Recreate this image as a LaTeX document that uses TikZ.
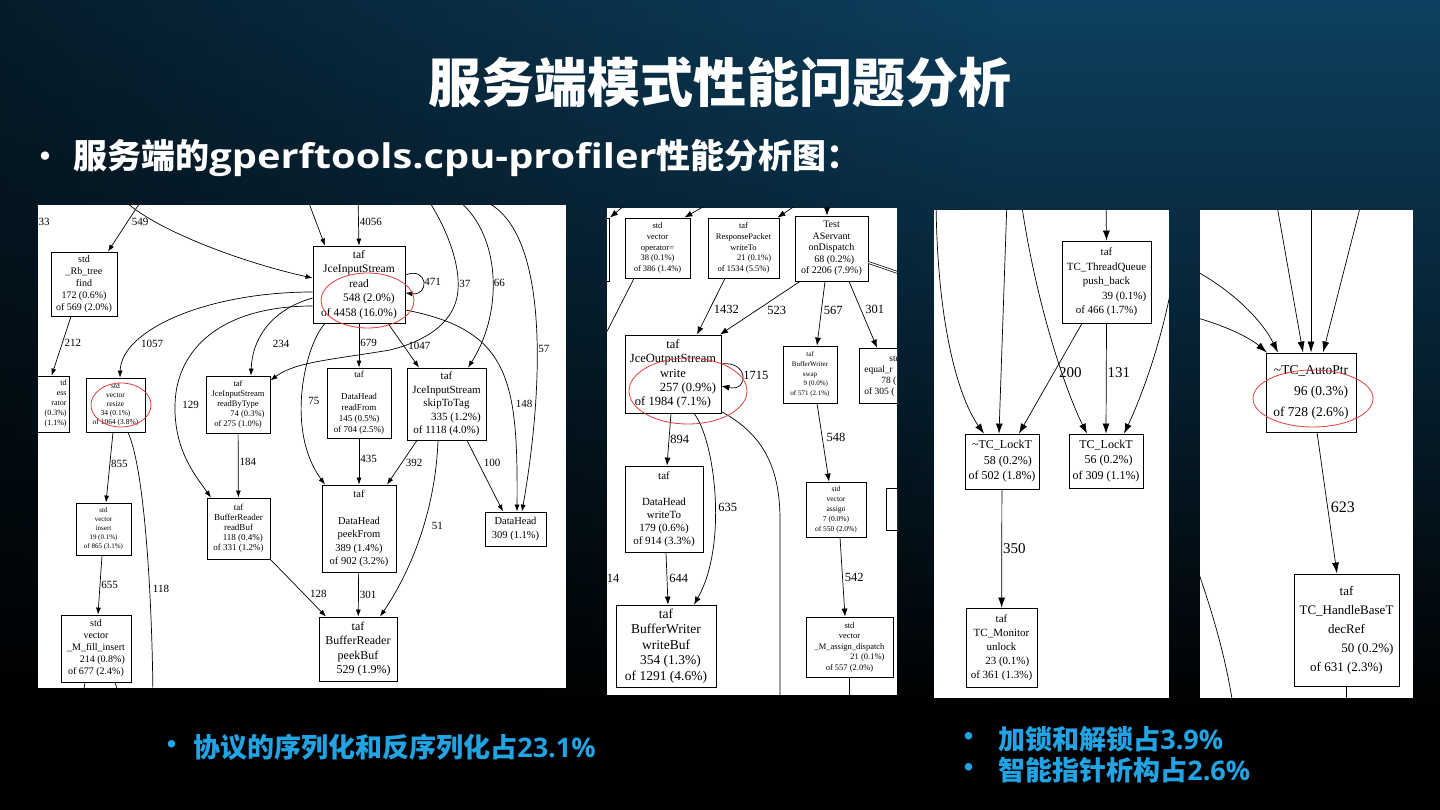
\documentclass[tikz,border=0pt]{standalone}
\usepackage{fontspec}
\setmainfont{Liberation Serif}
\newfontfamily\cjk{Noto Sans CJK SC}
\newfontfamily\latn{Open Sans}
\newfontfamily\latnwide{Open Sans}[FakeStretch=1.17]
\usetikzlibrary{arrows.meta,positioning,fadings}

\definecolor{slidetop}{RGB}{13,64,96}
\definecolor{slidemid}{RGB}{5,30,48}
\definecolor{note}{RGB}{34,164,228}
\definecolor{ringred}{RGB}{226,62,62}

\tikzset{
  sz/.style n args={4}{minimum width=#1pt,minimum height=#2pt,font=\fontsize{#3}{#4}\selectfont},
}

\begin{document}
\begin{tikzpicture}[->,>={Latex[length=7pt,width=5pt]},x=1pt,y=-1pt,line width=0.7pt]
  \tikzstyle{fn}=[draw,rectangle,align=center,inner sep=1pt,fill=white,line width=0.8pt]
  \tikzstyle{lbl}=[inner sep=1pt,anchor=west,font=\fontsize{11}{11}\selectfont]
  \tikzstyle{ring}=[-,draw=ringred,line width=0.8pt]
  \tikzstyle{sheet}=[fill=white,draw=none]
  \tikzstyle{hint}=[text=note,font=\cjk\bfseries\fontsize{27}{31}\selectfont,anchor=west,inner sep=0pt]

  % slide background
  \useasboundingbox (0,0) rectangle (1440,810);
  \fill[black] (0,0) rectangle (1440,810);
  \shade[top color=slidetop,middle color=slidemid,bottom color=black] (0,0) rectangle (1440,720);
  \fill[black,fill opacity=0.55,path fading=east] (0,0) rectangle (1000,720);

  \node[text=white,font=\cjk\bfseries\fontsize{53}{60}\selectfont] (title) at (720,82) {服务端模式性能问题分析};
  \node[text=white,font=\cjk\bfseries\fontsize{30}{34}\selectfont,anchor=west,inner sep=0pt] (dot0) at (30,160) {•};
  \node[text=white,font=\cjk\bfseries\fontsize{34}{40}\selectfont,anchor=west,inner sep=0pt] (sub) at (73,158) {服务端的{\latnwide gperftools.cpu-profiler}性能分析图：};

  % ---------- first graph: JceInputStream ----------
  \fill[sheet] (38,205) rectangle (566,688);
  \begin{scope}
    \clip (38,205) rectangle (566,688);
    \node[fn,sz={66}{64}{10}{12}] (rbfind) at (84,284) {std\\\_Rb\_tree\\find\\\hfill 172 (0.6\%)\\of 569 (2.0\%)};
    \node[fn,sz={50}{56}{8}{10},text width=44pt,align=right,anchor=east] (lessop) at (70,404) {td\hspace*{19pt}\\ess\hspace*{19pt}\\rator\\(0.3\%)\\(1.1\%)};
    \node[fn,sz={59}{54}{7.5}{9}] (resize) at (115.5,405) {std\\vector\\resize\\\hfill 34 (0.1\%)\\of 1064 (3.8\%)};
    \node[fn,sz={64}{57}{8.5}{10}] (readType) at (238,404.5) {taf\\JceInputStream\\readByType\\\hfill 74 (0.3\%)\\of 275 (1.0\%)};
    \node[fn,sz={92}{77}{11.5}{14.5}] (read) at (359,284.5) {taf\\JceInputStream\\read\\\hfill 548 (2.0\%)\\of 4458 (16.0\%)};
    \node[fn,sz={64}{70}{9}{11}] (rdFrom) at (359,403) {taf\\\mbox{}\\DataHead\\readFrom\\\hfill 145 (0.5\%)\\of 704 (2.5\%)};
    \node[fn,sz={79}{72}{11}{13.5}] (skipTag) at (446.5,404) {taf\\JceInputStream\\skipToTag\\\hfill 335 (1.2\%)\\of 1118 (4.0\%)};
    \node[fn,sz={63}{61}{9}{10}] (readBuf) at (238.5,528.5) {taf\\BufferReader\\readBuf\\\hfill 118 (0.4\%)\\of 331 (1.2\%)};
    \node[fn,sz={55}{52}{7}{9}] (insert) at (103.5,529) {std\\vector\\insert\\\hfill 19 (0.1\%)\\of 865 (3.1\%)};
    \node[fn,sz={70}{67}{10}{12}] (fill) at (96,648.5) {std\\vector\\\_M\_fill\_insert\\\hfill 214 (0.8\%)\\of 677 (2.4\%)};
    \node[fn,sz={74}{87}{10.5}{13.5}] (peekFrom) at (359,528.5) {taf\\\mbox{}\\DataHead\\peekFrom\\\hfill 389 (1.4\%)\\of 902 (3.2\%)};
    \node[fn,sz={61}{34}{10.5}{14}] (dhead) at (515.5,529) {DataHead\\309 (1.1\%)};
    \node[fn,sz={78}{64}{12}{14.5}] (peekBuf) at (358,649) {taf\\BufferReader\\peekBuf\\\hfill 529 (1.9\%)};
    \node[lbl,anchor=center] (lbl33) at (44,222) {33};

    \coordinate (c1a) at (143,198);
    \coordinate (c1b) at (122,198);
    \coordinate (c1c) at (307,198);
    \coordinate (c1d) at (358,198);
    \coordinate (c1e) at (427,198);
    \coordinate (c1f) at (455,198);
    \coordinate (c1g) at (475,198);
    \coordinate (c1h) at (153,700);
    \coordinate (c1i) at (83,695);
    \coordinate (c1j) at (119,695);

    \path (c1a) edge node[lbl,pos=0.44,xshift=3pt] {549} ([xshift=24pt]rbfind.north);
    \draw (c1b) .. controls (150,228) and (240,262) .. ([yshift=6.5pt]read.west);
    \path (c1c) edge ([xshift=-34pt]read.north);
    \path (c1d) edge node[lbl,pos=0.5] {4056} (read.north);
    \draw ([yshift=9.5pt]read.east) .. controls (428,266) and (430,296) .. ([yshift=-8.5pt]read.east) node[lbl,pos=0.5] {471};
    \draw ([yshift=-7.5pt]read.west) .. controls (207,292) and (121,330) .. ([xshift=4.5pt]resize.north) node[lbl,pos=0.75,xshift=4pt] {1057};
    \draw ([yshift=-13.5pt]read.west) .. controls (270,310) and (252,340) .. ([xshift=13pt]readType.north) node[lbl,pos=0.68,xshift=14pt] {234};
    \draw ([yshift=-21.5pt]read.west) .. controls (220,306) and (176,350) .. (175,405) node[lbl,pos=1,xshift=6pt] {129} .. controls (174,450) and (195,475) .. ([xshift=-27.5pt]readBuf.north);
    \draw ([xshift=-34pt]read.south) .. controls (305,345) and (285,430) .. ([xshift=-34pt]peekFrom.north) node[lbl,pos=0.55,xshift=5pt] {75};
    \path (read) edge node[lbl,pos=0.45] {679} (rdFrom);
    \path ([xshift=29pt]read.south) edge node[lbl,pos=0.5,xshift=3.5pt] {1047} ([xshift=-27.5pt]skipTag.north);
    \draw (c1e) .. controls (448,230) and (460,265) .. (458,290) node[lbl,pos=1,yshift=6pt] {37} .. controls (456,320) and (430,340) .. (390,350) .. controls (330,360) and (295,362) .. ([yshift=24pt]readType.east);
    \draw (c1f) .. controls (500,230) and (505,310) .. ([xshift=21.5pt]skipTag.north) node[lbl,pos=0.55] {66};
    \draw (c1g) .. controls (550,215) and (545,380) .. ([xshift=6.5pt]dhead.north) node[lbl,pos=0.6] {57};
    \draw ([yshift=-25.5pt]read.east) .. controls (510,330) and (518,380) .. ([xshift=1.5pt]dhead.north) node[lbl,pos=0.66,xshift=3pt] {148};
    \path ([xshift=-13pt]rbfind.south) edge node[lbl,pos=0.45,xshift=1pt] {212} ([xshift=7pt]lessop.north);
    \path ([xshift=-2.5pt]resize.south) edge node[lbl,pos=0.45] {855} ([xshift=2.5pt]insert.north);
    \draw ([xshift=12.5pt]resize.south) .. controls (145,470) and (152,600) .. (c1h) node[lbl,pos=0.65,xshift=2pt] {118};
    \path ([xshift=-1.5pt]insert.south) edge node[lbl,pos=0.5] {655} ([xshift=2pt]fill.north);
    \path (readType) edge node[lbl,pos=0.45] {184} (readBuf);
    \path (readBuf.south east) edge node[lbl,pos=0.6,xshift=5pt] {128} ([xshift=-32pt]peekBuf.north);
    \path (rdFrom) edge node[lbl,pos=0.45] {435} (peekFrom);
    \path ([xshift=-29.5pt]skipTag.south) edge node[lbl,pos=0.5,xshift=2.5pt] {392} ([xshift=28pt]peekFrom.north);
    \draw ([xshift=-8.5pt]skipTag.south) .. controls (435,520) and (405,580) .. ([xshift=22pt]peekBuf.north) node[lbl,pos=0.4,xshift=7pt] {51};
    \path ([xshift=20.5pt]skipTag.south) edge node[lbl,pos=0.32,xshift=4pt] {100} ([xshift=-12.5pt]dhead.north);
    \path (peekFrom) edge node[lbl,pos=0.5] {301} (peekBuf);
    \draw[-] ([xshift=-11pt]fill.south) -- (c1i);
    \draw[-] ([xshift=19pt]fill.south) -- (c1j);

    \draw[ring] (367.5,300.5) ellipse [x radius=46.5,y radius=27.5];
    \draw[ring] (121,405) ellipse [x radius=30,y radius=22];
  \end{scope}

  % ---------- second graph: JceOutputStream ----------
  \fill[sheet] (607,208) rectangle (897,695);
  \begin{scope}[>={Latex[length=8pt,width=6pt]},lbl/.append style={font=\fontsize{12.5}{12.5}\selectfont}]
    \clip (607,208) rectangle (897,695);
    \node[fn,minimum width=40pt,minimum height=63pt,anchor=east] (prevbox) at (610,249.5) {};
    \node[fn,sz={65}{60}{8.5}{10.8}] (oper) at (657.5,248) {std\\vector\\operator=\\\hfill 38 (0.1\%)\\of 386 (1.4\%)};
    \node[fn,sz={71}{60}{8.5}{10.8}] (respw) at (743.5,248) {taf\\ResponsePacket\\writeTo\\\hfill 21 (0.1\%)\\of 1534 (5.5\%)};
    \node[fn,sz={73}{65}{10}{11.5}] (disp) at (831.5,248.5) {Test\\AServant\\onDispatch\\\hfill 68 (0.2\%)\\of 2206 (7.9\%)};
    \node[fn,sz={96}{78}{12.5}{14.3}] (outw) at (673,374) {taf\\JceOutputStream\\write\\\hfill 257 (0.9\%)\\of 1984 (7.1\%)};
    \node[fn,sz={54}{57}{7}{9.75}] (swap) at (810,374.5) {taf\\BufferWriter\\swap\\\hfill 9 (0.0\%)\\of 571 (2.1\%)};
    \node[fn,sz={46}{55}{9.5}{11},align=left,anchor=west,inner xsep=4pt] (eqr) at (859,375.5) {\hspace*{25pt}std\\equal\_r\\\hspace*{17pt}78 (\\of 305 (};
    \node[fn,sz={60}{55}{7.5}{10}] (assign) at (836,509.5) {std\\vector\\assign\\\hfill 7 (0.0\%)\\of 550 (2.0\%)};
    \node[fn,minimum width=30pt,minimum height=42pt,anchor=west] (nextbox) at (886,509) {};
    \node[fn,sz={87}{60}{8.5}{10.5}] (adisp) at (849.5,647) {std\\vector\\\_M\_assign\_dispatch\\\hfill 21 (0.1\%)\\of 557 (2.0\%)};
    \node[fn,sz={78}{86}{11}{13}] (dwrite) at (664,509) {taf\\\mbox{}\\DataHead\\writeTo\\\hfill 179 (0.6\%)\\of 914 (3.3\%)};
    \node[fn,sz={100}{82}{13.5}{15.5}] (wbuf) at (666,646) {taf\\BufferWriter\\writeBuf\\\hfill 354 (1.3\%)\\of 1291 (4.6\%)};
    \node[lbl,anchor=center] (lbl14) at (613,578) {14};

    \coordinate (c2a) at (626,204);
    \coordinate (c2b) at (708,204);
    \coordinate (c2c) at (795,206);
    \coordinate (c2d) at (827,200);
    \coordinate (c2e) at (905,275);
    \coordinate (c2f) at (595,355);
    \coordinate (c2g) at (780,705);
    \coordinate (c2h) at (849.5,705);

    \path (c2a) edge (prevbox.north east);
    \path (c2b) edge ([xshift=-6pt]oper.north east);
    \path (c2c) edge ([xshift=-2pt]respw.north east);
    \path (c2d) edge ([xshift=-4.5pt]disp.north);
    \draw[-,double,double distance=1.2pt] ([yshift=-14pt]disp.east) -- (c2e);
    \draw ([xshift=-23.5pt]oper.south) -- (c2f);
    \path ([xshift=-18.5pt]respw.south) edge node[lbl,pos=0.55,xshift=3pt] {1432} ([xshift=24pt]outw.north);
    \path ([xshift=-31.5pt]disp.south) edge node[lbl,pos=0.55,xshift=10pt] {523} ([xshift=47pt]outw.north);
    \path ([xshift=-6.5pt]disp.south) edge node[lbl,pos=0.45,xshift=1pt] {567} ([xshift=7pt]swap.north);
    \path ([xshift=17.5pt]disp.south) edge node[lbl,pos=0.43,xshift=3pt] {301} ([xshift=18pt]eqr.north west);
    \draw ([yshift=10pt]outw.east) .. controls (748,360) and (750,392) .. ([yshift=-12pt]outw.east) node[lbl,pos=0.5] {1715};
    \path ([xshift=-2pt]outw.south) edge node[lbl,pos=0.5] {894} ([xshift=3pt]dwrite.north);
    \draw ([xshift=21pt]outw.south) .. controls (715,440) and (728,545) .. ([xshift=28pt]wbuf.north) node[lbl,pos=0.55,xshift=2pt] {635};
    \path ([xshift=2pt]dwrite.south) edge node[lbl,pos=0.5,xshift=1pt] {644} ([xshift=2pt]wbuf.north);
    \draw[-] ([xshift=48pt,yshift=2pt]outw.south) .. controls (765,435) and (780,470) .. (780,520) -- (c2g);
    \path ([xshift=7pt]swap.south) edge node[lbl,pos=0.44,xshift=3pt] {548} ([xshift=-7pt]assign.north);
    \path ([xshift=4pt]assign.south) edge node[lbl,pos=0.5,xshift=1pt] {542} ([xshift=-4.5pt]adisp.north);
    \draw[-] (adisp.south) -- (c2h);

    \draw[ring] (688,391) ellipse [x radius=59,y radius=33];
  \end{scope}

  % ---------- third graph: locks ----------
  \fill[sheet] (934,210) rectangle (1169,698);
  \begin{scope}[>={Latex[length=10pt,width=7pt]},lbl/.append style={font=\fontsize{15}{15}\selectfont}]
    \clip (934,210) rectangle (1169,698);
    \node[fn,sz={89}{82}{11}{14.5}] (push) at (1106.5,282) {taf\\TC\_ThreadQueue\\push\_back\\\hfill 39 (0.1\%)\\of 466 (1.7\%)};
    \node[fn,sz={74}{55}{12}{15.5}] (unlk) at (1002,461.5) {\textasciitilde TC\_LockT\\\hfill 58 (0.2\%)\\of 502 (1.8\%)};
    \node[fn,sz={74}{54}{12}{15.5}] (lockt) at (1106,461) {TC\_LockT\\\hfill 56 (0.2\%)\\of 309 (1.1\%)};
    \node[fn,sz={71}{79}{11}{14}] (mon) at (1001.5,647.5) {taf\\TC\_Monitor\\unlock\\\hfill 23 (0.1\%)\\of 361 (1.3\%)};

    \coordinate (c3a) at (936,200);
    \coordinate (c3b) at (1007,200);
    \coordinate (c3c) at (1021,200);
    \coordinate (c3d) at (1106,200);
    \coordinate (c3e) at (1178,245);

    \draw (c3a) .. controls (937,330) and (960,400) .. ([xshift=-18pt]unlk.north);
    \path (c3b) edge ([xshift=-3pt]unlk.north);
    \draw (c3c) .. controls (1035,300) and (1065,390) .. ([xshift=-19pt]lockt.north);
    \path (c3d) edge (push.north);
    \draw (c3e) .. controls (1168,330) and (1140,400) .. ([xshift=18pt]lockt.north);
    \path ([xshift=-24.5pt]push.south) edge node[lbl,pos=0.45,xshift=4pt] {200} ([xshift=17pt]unlk.north);
    \path (push.south) edge node[lbl,pos=0.45] {131} (lockt.north);
    \path (unlk) edge node[lbl,pos=0.5] {350} (mon);
  \end{scope}

  % ---------- fourth graph: auto pointer ----------
  \fill[sheet] (1200,210) rectangle (1413,698);
  \begin{scope}[>={Latex[length=11pt,width=7pt]},lbl/.append style={font=\fontsize{16}{16}\selectfont}]
    \clip (1200,210) rectangle (1413,698);
    \node[fn,sz={90}{79}{13.5}{21}] (aptr) at (1311,392.5) {\textasciitilde TC\_AutoPtr\\\hfill 96 (0.3\%)\\of 728 (2.6\%)};
    \node[fn,sz={105}{112}{13}{19}] (decref) at (1346.5,630) {taf\\TC\_HandleBaseT\\decRef\\\hfill 50 (0.2\%)\\of 631 (2.3\%)};

    \coordinate (c4a) at (1190,268);
    \coordinate (c4b) at (1190,316);
    \coordinate (c4c) at (1276,200);
    \coordinate (c4d) at (1311,200);
    \coordinate (c4e) at (1362,200);
    \coordinate (c4f) at (1346.5,705);
    \coordinate (c4g) at (1196,565);
    \coordinate (c4h) at (1233,705);

    \draw (c4a) .. controls (1230,288) and (1262,320) .. ([xshift=-33pt]aptr.north);
    \draw (c4b) .. controls (1225,325) and (1250,338) .. ([xshift=-44pt]aptr.north);
    \path (c4c) edge ([xshift=-8pt]aptr.north);
    \path (c4d) edge (aptr.north);
    \path (c4e) edge ([xshift=12pt]aptr.north);
    \path ([xshift=6pt]aptr.south) edge node[lbl,pos=0.53,xshift=2pt] {623} ([xshift=-9.5pt]decref.north);
    \draw[-] (decref.south) -- (c4f);
    \draw[-] (c4g) .. controls (1215,620) and (1226,660) .. (c4h);

    \draw[ring] (1313,398.5) ellipse [x radius=60,y radius=28.5];
  \end{scope}

  % ---------- findings ----------
  \node[hint] (dot1) at (158,747) {•};
  \node[hint] (note1) at (193,747) {协议的序列化和反序列化占{\latn 23.1\%}};
  \node[hint] (dot2) at (955,739) {•};
  \node[hint] (note2) at (998,739) {加锁和解锁占{\latn 3.9\%}};
  \node[hint] (dot3) at (955,770) {•};
  \node[hint] (note3) at (998,770) {智能指针析构占{\latn 2.6\%}};
\end{tikzpicture}
\end{document}
